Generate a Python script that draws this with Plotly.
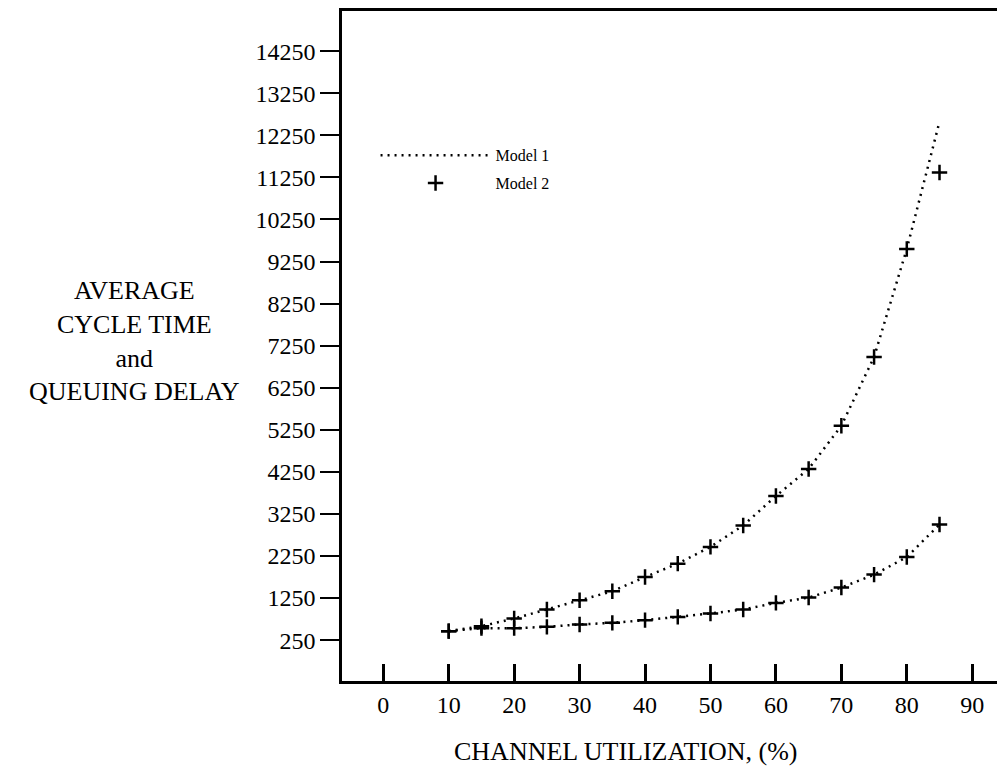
import plotly.graph_objects as go

# Channel utilization (%)
utilization = [10, 15, 20, 25, 30, 35, 40, 45, 50, 55, 60, 65, 70, 75, 80, 85]

# Model 1 (analytical, dotted)
model1_cycle = [463, 582, 764, 978, 1198, 1411, 1750, 2068, 2466, 2976, 3675, 4319, 5346, 6981, 9548, 12574]
model1_delay = [463, 534, 534, 565, 622, 660, 724, 802, 883, 978, 1134, 1262, 1499, 1807, 2224, 2999]

# Model 2 (plus markers)
model2_cycle = [463, 582, 764, 978, 1198, 1411, 1750, 2068, 2466, 2976, 3675, 4319, 5346, 6981, 9548, 11365]
model2_delay = [463, 534, 534, 565, 622, 660, 724, 802, 883, 978, 1134, 1262, 1499, 1807, 2224, 2999]

y_ticks = [250, 1250, 2250, 3250, 4250, 5250, 6250, 7250, 8250, 9250, 10250, 11250, 12250, 13250, 14250]
x_ticks = [0, 10, 20, 30, 40, 50, 60, 70, 80, 90]

FONT = "Liberation Serif"
dotted = dict(color="black", width=2.5, dash="2px,5px")
plus = dict(symbol="cross-thin", size=11, color="black", line=dict(color="black", width=2.5))

fig = go.Figure()
fig.add_trace(go.Scatter(x=utilization, y=model1_cycle, mode="lines", line=dotted,
                         name="Model 1", legendgroup="m1"))
fig.add_trace(go.Scatter(x=utilization, y=model1_delay, mode="lines", line=dotted,
                         name="Model 1", legendgroup="m1", showlegend=False))
fig.add_trace(go.Scatter(x=utilization, y=model2_cycle, mode="markers", marker=plus,
                         name="Model 2", legendgroup="m2"))
fig.add_trace(go.Scatter(x=utilization, y=model2_delay, mode="markers", marker=plus,
                         name="Model 2", legendgroup="m2", showlegend=False))

fig.update_layout(
    width=1005, height=776,
    margin=dict(l=334, r=0, t=1, b=103),
    paper_bgcolor="white", plot_bgcolor="white",
    font=dict(family=FONT, color="black", size=24),
    showlegend=True,
    legend=dict(x=0.05, y=0.81, xanchor="left", yanchor="top",
                bgcolor="rgba(0,0,0,0)", font=dict(family=FONT, size=16, color="black"),
                itemwidth=110, tracegroupgap=4),
    xaxis=dict(range=[-6.31, 96.23], tickmode="array", tickvals=x_ticks,
               ticktext=[str(v) for v in x_ticks],
               ticks="inside", ticklen=17, tickwidth=2.5, tickcolor="black",
               showline=True, linewidth=2.5, linecolor="black", mirror=True,
               showgrid=False, zeroline=False,
               tickfont=dict(family=FONT, size=24, color="black")),
    yaxis=dict(range=[-722, 15205], tickmode="array", tickvals=y_ticks,
               ticktext=[str(v) for v in y_ticks],
               ticks="outside", ticklen=19, tickwidth=2, tickcolor="black",
               showline=True, linewidth=2.5, linecolor="black", mirror=False,
               showgrid=False, zeroline=False,
               tickfont=dict(family=FONT, size=24, color="black")),
    annotations=[
        dict(text="AVERAGE<br>CYCLE TIME<br>and<br>QUEUING DELAY", xref="paper", yref="paper",
             x=-0.3085, y=0.5074, xanchor="center", yanchor="middle", align="center",
             showarrow=False, font=dict(family=FONT, size=26, color="black")),
        dict(text="CHANNEL UTILIZATION, (%)", xref="paper", yref="paper",
             x=0.4218, y=-0.1057, xanchor="center", yanchor="middle",
             showarrow=False, font=dict(family=FONT, size=26, color="black")),
    ],
)

fig.write_html("out.html")
